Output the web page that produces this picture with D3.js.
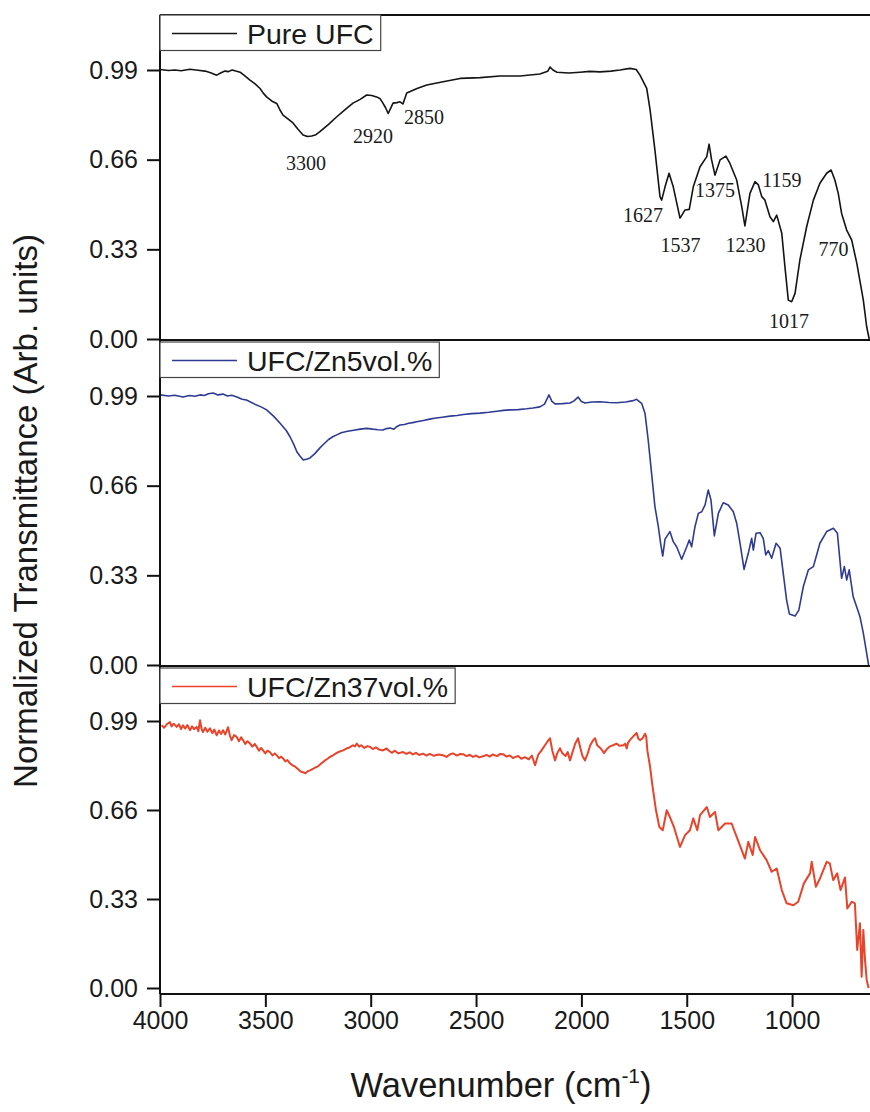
<!DOCTYPE html>
<html>
<head>
<meta charset="utf-8">
<script src="https://cdn.jsdelivr.net/npm/d3@7/dist/d3.min.js"></script>
<style>
  html, body { margin: 0; padding: 0; background: #fff; }
  svg { display: block; }
  text { font-family: "Liberation Sans", Arial, sans-serif; fill: #1a1a1a; }
  .peak { font-family: "Liberation Serif", "Times New Roman", serif; }
</style>
</head>
<body>
<svg id="chart" width="870" height="1112"></svg>
<script>
// FTIR spectra: wavenumber (cm^-1) and normalized transmittance
const seriesNames = ["Pure UFC", "UFC/Zn5vol.%", "UFC/Zn37vol.%"];

const pureWavenumber = [4000,3960,3929,3900,3858,3820,3786,3760,3731,3710,3692,3675,3658,3640,3620,3600,3573,3550,3525,3510,3494,3470,3446,3430,3416,3390,3369,3345,3321,3300,3280,3260,3241,3200,3161,3120,3084,3050,3019,2995,2972,2955,2942,2930,2917,2905,2894,2875,2861,2847,2838,2829,2780,2734,2650,2576,2480,2386,2291,2197,2160,2149,2135,2116,2060,2007,1960,1912,1860,1817,1770,1740,1722,1690,1674,1651,1627,1619,1603,1584,1564,1532,1508,1488,1469,1437,1405,1394,1382,1366,1342,1314,1295,1263,1239,1224,1200,1176,1160,1144,1129,1105,1089,1073,1049,1034,1018,1002,986,963,931,899,868,836,815,797,781,765,741,717,693,662,646,634];
const pureValue = [0.992,0.988,0.990,0.987,0.993,0.989,0.986,0.980,0.971,0.980,0.986,0.984,0.990,0.986,0.982,0.970,0.953,0.940,0.922,0.905,0.891,0.876,0.867,0.842,0.824,0.808,0.795,0.772,0.751,0.745,0.747,0.752,0.763,0.790,0.818,0.845,0.868,0.882,0.898,0.896,0.891,0.884,0.868,0.852,0.830,0.850,0.868,0.870,0.873,0.865,0.885,0.905,0.922,0.935,0.948,0.959,0.962,0.968,0.968,0.975,0.985,1.001,0.990,0.982,0.979,0.982,0.985,0.983,0.986,0.990,0.996,0.992,0.971,0.922,0.843,0.695,0.524,0.511,0.560,0.610,0.560,0.445,0.475,0.477,0.560,0.634,0.671,0.717,0.659,0.603,0.659,0.673,0.646,0.585,0.487,0.416,0.536,0.579,0.567,0.524,0.511,0.450,0.432,0.456,0.389,0.266,0.143,0.137,0.168,0.291,0.413,0.511,0.573,0.610,0.622,0.585,0.536,0.462,0.401,0.364,0.279,0.143,0.045,0.000];

const zn5Wavenumber = [4000,3960,3930,3891,3860,3835,3810,3790,3770,3748,3725,3701,3680,3660,3635,3610,3590,3573,3550,3520,3494,3460,3430,3416,3400,3383,3365,3350,3335,3321,3305,3288,3265,3241,3220,3200,3180,3161,3140,3110,3080,3050,3019,2990,2965,2942,2925,2908,2890,2875,2861,2840,2820,2800,2782,2750,2720,2690,2660,2624,2590,2560,2520,2481,2440,2400,2370,2339,2300,2260,2230,2197,2175,2154,2140,2125,2090,2054,2035,2016,2000,1983,1950,1912,1870,1833,1790,1754,1738,1714,1698,1683,1667,1651,1635,1624,1614,1603,1580,1564,1548,1524,1500,1488,1477,1461,1445,1429,1413,1398,1385,1369,1350,1327,1303,1279,1263,1247,1228,1208,1192,1184,1171,1152,1137,1125,1113,1097,1076,1057,1042,1026,1013,986,968,947,923,899,868,836,804,785,765,752,741,729,710,694,678,662,646,637];
const zn5Value = [0.994,0.990,0.993,0.986,0.992,0.989,0.994,0.992,0.998,1.001,0.994,0.997,0.990,0.993,0.986,0.978,0.975,0.969,0.960,0.950,0.939,0.915,0.890,0.877,0.862,0.840,0.812,0.784,0.768,0.755,0.757,0.762,0.778,0.799,0.815,0.830,0.840,0.847,0.855,0.860,0.864,0.868,0.871,0.868,0.866,0.865,0.870,0.872,0.868,0.878,0.883,0.885,0.890,0.892,0.895,0.900,0.905,0.909,0.912,0.916,0.918,0.922,0.925,0.927,0.930,0.934,0.937,0.939,0.940,0.943,0.946,0.950,0.960,0.994,0.970,0.961,0.962,0.964,0.972,0.986,0.970,0.964,0.968,0.969,0.966,0.965,0.968,0.973,0.978,0.963,0.926,0.828,0.706,0.583,0.509,0.448,0.401,0.463,0.491,0.454,0.435,0.389,0.435,0.460,0.435,0.509,0.558,0.564,0.589,0.644,0.607,0.475,0.558,0.597,0.589,0.564,0.522,0.448,0.352,0.411,0.466,0.423,0.485,0.487,0.466,0.405,0.421,0.393,0.448,0.430,0.337,0.239,0.188,0.180,0.202,0.288,0.350,0.362,0.448,0.491,0.503,0.485,0.319,0.362,0.313,0.350,0.251,0.215,0.178,0.117,0.043,0.000];

const zn37Wavenumber = [3992,3980,3968,3953,3945,3935,3921,3910,3900,3891,3880,3870,3858,3848,3838,3826,3818,3810,3803,3796,3785,3775,3763,3752,3742,3731,3720,3710,3701,3690,3677,3668,3660,3648,3636,3625,3615,3606,3595,3585,3573,3562,3550,3541,3530,3520,3511,3500,3490,3478,3466,3455,3446,3435,3425,3416,3405,3395,3383,3370,3360,3350,3340,3330,3321,3310,3300,3288,3275,3262,3250,3235,3220,3205,3193,3180,3165,3150,3131,3115,3100,3085,3075,3066,3055,3045,3030,3015,3003,2990,2975,2960,2942,2925,2910,2900,2885,2870,2847,2830,2815,2800,2785,2770,2752,2735,2720,2700,2680,2657,2640,2625,2610,2590,2575,2562,2545,2530,2515,2500,2485,2467,2450,2435,2420,2400,2385,2372,2355,2340,2325,2315,2300,2285,2268,2250,2235,2220,2205,2190,2173,2160,2149,2138,2125,2115,2102,2090,2075,2065,2054,2040,2030,2016,2005,1995,1983,1970,1958,1945,1935,1925,1912,1900,1893,1880,1864,1850,1833,1820,1801,1792,1785,1778,1770,1755,1745,1738,1730,1722,1710,1698,1692,1687,1674,1662,1646,1630,1614,1595,1580,1561,1532,1508,1485,1469,1450,1437,1405,1390,1366,1350,1318,1287,1263,1224,1208,1187,1176,1152,1121,1097,1073,1049,1026,994,971,944,915,907,887,868,836,821,805,786,770,749,738,717,702,691,678,670,662,654,646,637];
const zn37Value = [0.974,0.965,0.978,0.986,0.970,0.980,0.968,0.978,0.960,0.974,0.962,0.975,0.956,0.970,0.960,0.968,0.952,0.993,0.962,0.949,0.965,0.950,0.963,0.945,0.958,0.937,0.955,0.942,0.956,0.940,0.967,0.935,0.919,0.938,0.931,0.915,0.930,0.919,0.905,0.915,0.907,0.895,0.905,0.894,0.880,0.890,0.881,0.870,0.880,0.875,0.862,0.870,0.863,0.852,0.858,0.851,0.840,0.845,0.833,0.825,0.822,0.815,0.808,0.802,0.800,0.796,0.803,0.807,0.812,0.818,0.822,0.832,0.842,0.850,0.857,0.862,0.870,0.876,0.881,0.888,0.892,0.900,0.896,0.906,0.895,0.900,0.890,0.897,0.894,0.886,0.892,0.884,0.881,0.888,0.878,0.872,0.880,0.870,0.875,0.868,0.874,0.866,0.872,0.864,0.869,0.862,0.868,0.861,0.866,0.863,0.857,0.866,0.870,0.862,0.868,0.867,0.860,0.865,0.857,0.862,0.855,0.859,0.864,0.858,0.866,0.860,0.868,0.867,0.858,0.862,0.853,0.856,0.860,0.850,0.856,0.848,0.862,0.826,0.865,0.880,0.900,0.915,0.926,0.880,0.844,0.870,0.889,0.870,0.860,0.875,0.844,0.880,0.905,0.926,0.890,0.860,0.844,0.870,0.900,0.918,0.926,0.900,0.891,0.880,0.871,0.885,0.896,0.900,0.906,0.898,0.900,0.906,0.888,0.910,0.919,0.932,0.940,0.946,0.925,0.919,0.925,0.943,0.930,0.881,0.820,0.746,0.659,0.597,0.585,0.659,0.634,0.597,0.523,0.567,0.585,0.629,0.585,0.641,0.671,0.634,0.653,0.585,0.610,0.610,0.560,0.480,0.542,0.493,0.560,0.511,0.474,0.431,0.443,0.363,0.314,0.307,0.320,0.388,0.425,0.468,0.375,0.406,0.468,0.462,0.400,0.425,0.363,0.410,0.295,0.320,0.314,0.141,0.240,0.042,0.215,0.104,0.030,0.000];

const seriesColors = ["#141414", "#2f3b93", "#e9442b"];
const yTickValues = [0, 0.33, 0.66, 0.99];
const xTickValues = [4000, 3500, 3000, 2500, 2000, 1500, 1000];

// Band assignments marked on the pure UFC spectrum (label anchor in data units)
const peakLabels = ["3300", "2920", "2850", "1627", "1537", "1375", "1230", "1159", "770", "1017"];
const peakLabelWavenumber = [3307, 2989, 2747, 1708, 1530, 1366, 1221, 1048, 804, 1015];
const peakLabelValue = [0.622, 0.722, 0.790, 0.432, 0.321, 0.521, 0.321, 0.558, 0.305, 0.039];

const svg = d3.select("#chart");
const W = 870;
const left = 160;

const x = d3.scaleLinear().domain([4000, 600]).range([left, left + 3400 * 0.2107]);

// panel frames: top/bottom edge and where 0 and 0.99 fall
const panels = [
  { top: 15,  bottom: 340, zero: 339, high: 70 },
  { top: 340, bottom: 666, zero: 665, high: 396 },
  { top: 666, bottom: 994, zero: 988, high: 721 }
];

const seriesData = [
  pureWavenumber.map((w, i) => [w, pureValue[i]]),
  zn5Wavenumber.map((w, i) => [w, zn5Value[i]]),
  zn37Wavenumber.map((w, i) => [w, zn37Value[i]])
];
const lineWidths = [1.6, 1.6, 2.0];

panels.forEach((p, k) => {
  const y = d3.scaleLinear().domain([0, 0.99]).range([p.zero, p.high]);
  const g = svg.append("g");

  // curve
  const line = d3.line().x(d => x(d[0])).y(d => y(d[1]));
  g.append("path")
    .datum(seriesData[k])
    .attr("fill", "none")
    .attr("stroke", seriesColors[k])
    .attr("stroke-width", lineWidths[k])
    .attr("stroke-linejoin", "round")
    .attr("d", line);

  // frame edges
  g.append("line").attr("x1", left).attr("x2", W + 10)
    .attr("y1", p.top).attr("y2", p.top)
    .attr("stroke", "#111").attr("stroke-width", 2);
  g.append("line").attr("x1", left).attr("x2", W + 10)
    .attr("y1", p.bottom).attr("y2", p.bottom)
    .attr("stroke", "#111").attr("stroke-width", 2);

  // y axis
  const yAxis = d3.axisLeft(y)
    .tickValues(yTickValues)
    .tickFormat(d3.format(".2f"))
    .tickSize(13)
    .tickPadding(9);
  const ag = g.append("g").attr("transform", `translate(${left},0)`).call(yAxis);
  ag.select(".domain").remove();
  ag.append("line").attr("x1", 0).attr("x2", 0)
    .attr("y1", p.top).attr("y2", p.bottom)
    .attr("stroke", "#111").attr("stroke-width", 2);
  ag.selectAll(".tick line").attr("stroke", "#111").attr("stroke-width", 2);
  ag.selectAll(".tick text")
    .attr("font-size", 25)
    .attr("font-family", "Liberation Sans, Arial, sans-serif")
    .attr("fill", "#1a1a1a");

  // legend box
  const lg = g.append("g");
  const legendTop = k === 0 ? p.top : p.top + 2;
  const txt = lg.append("text")
    .attr("x", left + 87)
    .attr("y", legendTop + 28.5)
    .attr("font-size", 28.5)
    .text(seriesNames[k]);
  const tw = txt.node().getComputedTextLength();
  lg.insert("rect", "text")
    .attr("x", left)
    .attr("y", legendTop)
    .attr("width", 87 + tw + 7)
    .attr("height", 35.5)
    .attr("fill", "#fff")
    .attr("stroke", "#444")
    .attr("stroke-width", 1.2);
  lg.append("line")
    .attr("x1", left + 12).attr("x2", left + 77)
    .attr("y1", legendTop + 18.5).attr("y2", legendTop + 18.5)
    .attr("stroke", seriesColors[k]).attr("stroke-width", 1.6);

  // band labels on the first spectrum
  if (k === 0) {
    g.selectAll("text.peak")
      .data(peakLabels)
      .join("text")
      .attr("class", "peak")
      .attr("x", (d, i) => x(peakLabelWavenumber[i]))
      .attr("y", (d, i) => y(peakLabelValue[i]))
      .attr("text-anchor", "middle")
      .attr("font-size", 20)
      .text(d => d);
  }

  // x axis on the bottom panel
  if (k === panels.length - 1) {
    const xAxis = d3.axisBottom(x)
      .tickValues(xTickValues)
      .tickFormat(d3.format("d"))
      .tickSize(13)
      .tickPadding(4);
    const xg = g.append("g").attr("transform", `translate(0,${p.bottom})`).call(xAxis);
    xg.select(".domain").remove();
    xg.selectAll(".tick line").attr("stroke", "#111").attr("stroke-width", 2);
    xg.selectAll(".tick text")
      .attr("font-size", 25)
      .attr("font-family", "Liberation Sans, Arial, sans-serif")
      .attr("fill", "#1a1a1a");
  }
});

// axis titles
svg.append("text")
  .attr("transform", "translate(37,511) rotate(-90)")
  .attr("text-anchor", "middle")
  .attr("font-size", 33)
  .text("Normalized Transmittance (Arb. units)");

const xt = svg.append("text")
  .attr("x", 501)
  .attr("y", 1097)
  .attr("text-anchor", "middle")
  .attr("font-size", 34.5);
xt.append("tspan").text("Wavenumber (cm");
xt.append("tspan").attr("font-size", 21).attr("dy", -14).text("-1");
xt.append("tspan").attr("dy", 14).text(")");
</script>
</body>
</html>
